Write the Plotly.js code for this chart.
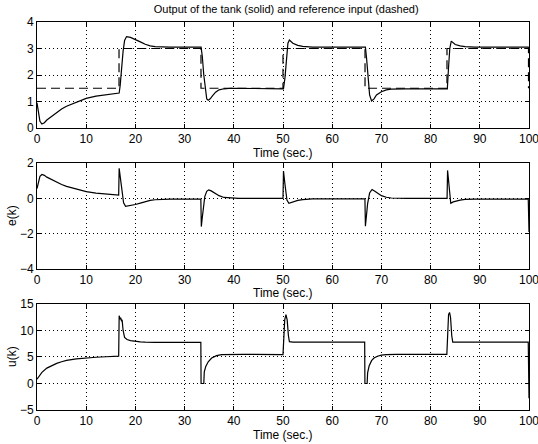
<!DOCTYPE html>
<html>
<head>
<meta charset="utf-8">
<script src="https://cdn.plot.ly/plotly-3.0.1.min.js"></script>
<style>html,body{margin:0;padding:0;background:#fff;}#chart{width:538px;height:444px;}</style>
</head>
<body>
<div id="chart"></div>
<script>
// Reference input (dashed)
const refT = [0, 16.67, 16.67, 33.33, 33.33, 50, 50, 66.67, 66.67, 83.33, 83.33, 99.9, 99.9];
const refY = [1.5, 1.5, 3, 3, 1.5, 1.5, 3, 3, 1.5, 1.5, 3, 3, 1.5];

// Output of the tank (solid)
const tOut = [0, 0.3, 0.6, 1.0, 1.5, 2, 3, 4, 5, 6, 7, 8, 10, 12, 14, 16.7, 16.9, 17.2, 17.5, 17.8, 18.2, 19, 20, 21, 22, 23, 24, 25, 27, 33.35, 33.6, 33.9, 34.2, 34.5, 34.8, 35.2, 35.7, 36.3, 37, 38, 39.5, 42, 50.1, 50.4, 50.7, 51.0, 51.3, 52, 53, 54, 56, 66.75, 67.0, 67.3, 67.6, 68.0, 68.5, 69, 70, 71, 72, 75, 83.4, 83.65, 83.9, 84.2, 84.6, 85, 86, 87, 89, 99.85, 100];
const yOut = [0.95, 0.55, 0.25, 0.15, 0.2, 0.3, 0.45, 0.6, 0.72, 0.82, 0.9, 0.98, 1.12, 1.2, 1.26, 1.32, 1.6, 2.3, 2.9, 3.3, 3.45, 3.42, 3.35, 3.25, 3.16, 3.1, 3.07, 3.06, 3.05, 3.05, 2.7, 2.0, 1.4, 1.1, 1.05, 1.1, 1.22, 1.35, 1.44, 1.48, 1.5, 1.49, 1.48, 1.9, 2.7, 3.2, 3.32, 3.2, 3.12, 3.08, 3.05, 3.05, 2.6, 1.8, 1.25, 1.02, 1.1, 1.25, 1.37, 1.44, 1.47, 1.48, 1.48, 2.3, 3.0, 3.28, 3.22, 3.15, 3.1, 3.07, 3.05, 3.05, 2.9];

// Error e(k)
const tE = [0, 0.3, 0.6, 1.0, 1.5, 2, 3, 4, 5, 6, 7, 8, 10, 12, 14, 16.6, 16.7, 17.0, 17.3, 17.6, 18.0, 19, 20, 21, 22, 23, 24, 25, 27, 33.3, 33.4, 33.55, 33.8, 34.1, 34.5, 34.9, 35.4, 36, 37, 38, 39, 41, 50.0, 50.1, 50.4, 50.8, 51.2, 52, 53, 54, 56, 60, 66.65, 66.75, 66.9, 67.2, 67.6, 68.1, 68.6, 69.2, 70, 71, 72, 75, 83.35, 83.45, 83.7, 84.1, 84.6, 85, 86, 87, 89, 99.85, 99.95, 100];
const eVal = [0.55, 0.95, 1.25, 1.35, 1.3, 1.2, 1.05, 0.9, 0.78, 0.68, 0.6, 0.52, 0.38, 0.3, 0.24, 0.18, 1.7, 1.1, 0.3, -0.25, -0.45, -0.42, -0.35, -0.27, -0.18, -0.12, -0.08, -0.06, -0.05, -0.05, -1.6, -1.2, -0.5, 0.1, 0.4, 0.48, 0.42, 0.32, 0.15, 0.05, 0.02, 0, 0, 1.55, 0.8, -0.1, -0.28, -0.2, -0.12, -0.07, -0.03, -0.03, -0.03, -1.58, -1.0, -0.3, 0.3, 0.5, 0.42, 0.3, 0.15, 0.06, 0.02, 0, 0, 1.58, 0.7, -0.28, -0.2, -0.16, -0.1, -0.06, -0.04, -0.04, -1.2, -1.9];

// Control u(k)
const tU = [0, 0.5, 1, 2, 3, 4, 5, 6, 8, 10, 12, 14, 16.6, 16.7, 16.9, 17.0, 17.15, 17.3, 17.5, 17.8, 18.3, 19, 20, 21, 22, 24, 33.3, 33.35, 33.9, 34.0, 34.3, 34.8, 35.5, 36.5, 37.5, 39, 42, 50.0, 50.15, 50.35, 50.6, 50.85, 51.1, 51.3, 52, 66.6, 66.65, 67.1, 67.2, 67.5, 68, 68.5, 69.2, 70, 71, 73, 83.3, 83.45, 83.65, 83.85, 84.05, 84.3, 84.5, 85, 99.85, 100];
const uVal = [0.8, 1.5, 2.1, 2.9, 3.4, 3.8, 4.1, 4.35, 4.65, 4.85, 4.95, 5.05, 5.15, 12.8, 12.1, 12.4, 11.9, 12.0, 10.0, 8.7, 8.3, 8.1, 7.95, 7.85, 7.8, 7.75, 7.75, 0, 0, 2.2, 3.2, 4.1, 4.8, 5.25, 5.45, 5.5, 5.5, 5.45, 9, 12, 13, 12, 9, 7.9, 7.8, 7.8, 0, 0, 2.0, 3.3, 4.3, 4.8, 5.15, 5.35, 5.45, 5.5, 5.5, 10, 13, 13.4, 12.5, 9, 7.8, 7.8, 7.8, -2.8];

const titleText = 'Output of the tank (solid) and reference input (dashed)';
const xTitle = 'Time (sec.)';
const yTitles = ['e(k)', 'u(k)'];
const xTicks = [0, 10, 20, 30, 40, 50, 60, 70, 80, 90, 100];

const FONT = '"Liberation Sans", Arial, Helvetica, sans-serif';
const lineStyle = {color: '#000', width: 1.2};

const traces = [
  {x: refT, y: refY, xaxis: 'x', yaxis: 'y', mode: 'lines', line: {color: '#000', width: 1.2, dash: '9px,5px'}},
  {x: tOut, y: yOut, xaxis: 'x', yaxis: 'y', mode: 'lines', line: lineStyle},
  {x: tE, y: eVal, xaxis: 'x2', yaxis: 'y2', mode: 'lines', line: lineStyle},
  {x: tU, y: uVal, xaxis: 'x3', yaxis: 'y3', mode: 'lines', line: lineStyle}
];

function axisBase() {
  return {
    showline: true, mirror: 'ticks', linecolor: '#000', linewidth: 1,
    ticks: 'inside', ticklen: 4, tickcolor: '#000', tickwidth: 1,
    showgrid: true, gridcolor: '#000', griddash: '1px,3px', gridwidth: 1,
    zeroline: false, tickfont: {family: FONT, size: 12, color: '#000'},
    automargin: false
  };
}
function xAx(anchor) {
  return Object.assign(axisBase(), {
    range: [-0.0001, 100.0001], tickvals: xTicks, ticktext: xTicks.map(String), anchor: anchor,
    domain: [0, 1], ticklabeloverflow: 'allow'
  });
}
function yAx(anchor, range, dtick, dom) {
  return Object.assign(axisBase(), {range: range, dtick: dtick, tick0: 0, anchor: anchor, domain: dom});
}

const txtFont = {family: FONT, size: 12, color: '#000'};
// x-axis titles as annotations, one under each panel
const xTitleY = [0.6624, 0.3015, -0.0644];
const annotations = xTitleY.map(yy => ({
  text: xTitle, xref: 'paper', yref: 'paper', x: 0.5, y: yy,
  xanchor: 'center', yanchor: 'middle', showarrow: false, font: txtFont
}));
// y-axis titles for the lower two panels
const yTitleY = [0.5, 0.1366];
yTitles.forEach((t, i) => annotations.push({
  text: t, xref: 'paper', yref: 'paper', x: -0.0508, y: yTitleY[i],
  xanchor: 'center', yanchor: 'middle', textangle: -90, showarrow: false, font: txtFont
}));

const layout = {
  width: 538, height: 444,
  margin: {l: 37, r: 9, t: 22, b: 34},
  paper_bgcolor: '#fff', plot_bgcolor: '#fff',
  showlegend: false,
  font: {family: FONT, color: '#000', size: 12},
  title: {text: titleText, font: {family: FONT, size: 11, color: '#000'}, x: 0.532, xanchor: 'center', y: 0.98, yanchor: 'middle', xref: 'container', yref: 'container'},
  xaxis: xAx('y'),
  xaxis2: xAx('y2'),
  xaxis3: xAx('y3'),
  yaxis: yAx('x', [0, 4], 1, [0.7268, 1]),
  yaxis2: yAx('x2', [-4, 2], 2, [0.3634, 0.6366]),
  yaxis3: yAx('x3', [-5, 15], 5, [0, 0.2732]),
  annotations: annotations
};

Plotly.newPlot('chart', traces, layout, {displayModeBar: false, staticPlot: true});
</script>
</body>
</html>
